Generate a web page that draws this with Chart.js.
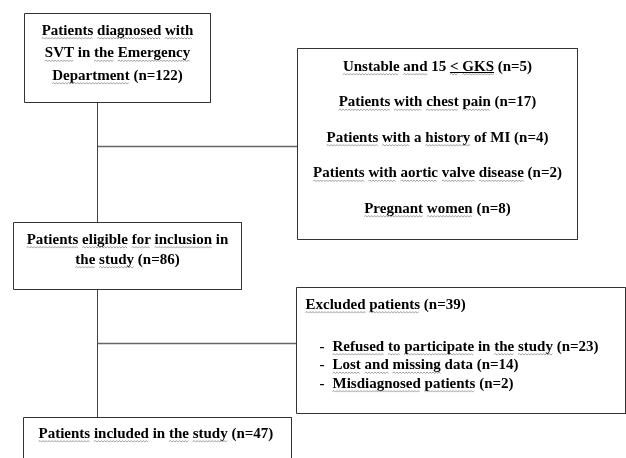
<!DOCTYPE html>
<html>
<head>
<meta charset="utf-8">
<title>Patient flow</title>
<script src="https://cdn.jsdelivr.net/npm/chart.js@4.4.1/dist/chart.umd.min.js"></script>
<style>
  html, body { margin: 0; padding: 0; background: #fff; }
  #flow { display: block; }
</style>
</head>
<body>
<canvas id="flow" width="626" height="458"></canvas>
<script>
// ── data ────────────────────────────────────────
const stageLabels = [
  'Patients diagnosed with SVT in the Emergency Department',
  'Patients eligible for inclusion in the study',
  'Patients included in the study',
];
const stageCounts = [122, 86, 47];

const exclusionLabels = [
  'Unstable and 15 < GKS',
  'Patients with chest pain',
  'Patients with a history of MI',
  'Patients with aortic valve disease',
  'Pregnant women',
];
const exclusionCounts = [5, 17, 4, 2, 8];

const lossTitle = 'Excluded patients';
const lossLabels = [
  'Refused to participate in the study',
  'Lost and missing data',
  'Misdiagnosed patients',
];
const lossCounts = [23, 14, 2];

// ── layout (page units = pixels of the 626x458 frame) ──
const boxes = {
  diagnosed: { x0: 24, y0: 13, x1: 210, y1: 102 },
  exclusion: { x0: 297, y0: 48, x1: 577, y1: 239 },
  eligible:  { x0: 13, y0: 222, x1: 241, y1: 289 },
  loss:      { x0: 296, y0: 287, x1: 625, y1: 413 },
  included:  { x0: 23, y0: 417, x1: 291, y1: 480 },
};
const spineX = 97;
const branchY = [146, 343];

const FONT = 'bold 15px "Liberation Serif", "Times New Roman", serif';
const noSquiggle = ['a', 'of', 'MI', 'in', '15', 'data', '-'];

const withCount = (label, n) => `${label} (n=${n})`;

function rectPoints(b) {
  return [
    { x: b.x0, y: b.y0 }, { x: b.x1, y: b.y0 },
    { x: b.x1, y: b.y1 }, { x: b.x0, y: b.y1 }, { x: b.x0, y: b.y0 },
  ];
}

function lineSet(points, color, width) {
  return {
    data: points,
    showLine: true,
    borderColor: color,
    borderWidth: width,
    pointRadius: 0,
    tension: 0,
    fill: false,
    clip: false,
  };
}

const datasets = [
  ...Object.values(boxes).map(b => lineSet(rectPoints(b), '#333', 1)),
  lineSet([{ x: spineX, y: boxes.diagnosed.y1 }, { x: spineX, y: boxes.eligible.y0 }], '#444', 1),
  lineSet([{ x: spineX, y: boxes.eligible.y1 }, { x: spineX, y: boxes.included.y0 }], '#444', 1),
  lineSet([{ x: spineX, y: branchY[0] }, { x: boxes.exclusion.x0, y: branchY[0] }], '#666', 1.5),
  lineSet([{ x: spineX, y: branchY[1] }, { x: boxes.loss.x0, y: branchY[1] }], '#666', 1.5),
];

function wrap(ctx, text, maxWidth) {
  const words = text.split(' ');
  const lines = [];
  let cur = '';
  words.forEach(w => {
    const test = cur ? cur + ' ' + w : w;
    if (cur && ctx.measureText(test).width > maxWidth) {
      lines.push(cur);
      cur = w;
    } else {
      cur = test;
    }
  });
  if (cur) lines.push(cur);
  return lines;
}

function squiggle(ctx, x0, x1, y) {
  ctx.save();
  ctx.strokeStyle = '#8c8c8c';
  ctx.lineWidth = 0.8;
  ctx.beginPath();
  let up = true;
  ctx.moveTo(x0, y);
  for (let x = x0 + 1.5; x <= x1; x += 1.5) {
    ctx.lineTo(x, up ? y - 1 : y + 0.6);
    up = !up;
  }
  ctx.stroke();
  ctx.restore();
}

// draws one line of text, word by word, so words can get the wavy marks
function drawLine(ctx, text, x, y, align) {
  const total = ctx.measureText(text).width;
  let start = align === 'center' ? x - total / 2 : x;
  ctx.textAlign = 'left';
  ctx.textBaseline = 'alphabetic';
  ctx.fillText(text, start, y);
  const words = text.split(' ');
  let offset = 0;
  words.forEach((w, i) => {
    const pre = words.slice(0, i).join(' ') + (i ? ' ' : '');
    const wx = start + ctx.measureText(pre).width;
    const ww = ctx.measureText(w).width;
    if (!w.startsWith('(') && !noSquiggle.includes(w)) {
      squiggle(ctx, wx, wx + ww, y + 4);
    }
  });
  // the "< GKS" part is underlined (reads as ≤)
  const k = text.indexOf('< GKS');
  if (k >= 0) {
    const ux = start + ctx.measureText(text.slice(0, k)).width;
    const uw = ctx.measureText('< GKS').width;
    ctx.fillRect(ux, y + 1.5, uw, 1);
  }
}

const textPlugin = {
  id: 'flowText',
  afterDatasetsDraw(chart) {
    const { ctx, scales: { x: sx, y: sy } } = chart;
    const px = v => sx.getPixelForValue(v);
    const py = v => sy.getPixelForValue(v);
    ctx.save();
    ctx.font = FONT;
    ctx.fillStyle = '#000';

    // stage boxes, centred text with wrapping
    const centred = (b, text, firstY, step, pad) => {
      const cx = px((b.x0 + b.x1) / 2);
      const lines = wrap(ctx, text, px(b.x1) - px(b.x0) - 2 * pad);
      lines.forEach((l, i) => drawLine(ctx, l, cx, py(firstY + i * step), 'center'));
    };
    centred(boxes.diagnosed, withCount(stageLabels[0], stageCounts[0]), 34, 22.5, 8);
    centred(boxes.eligible, withCount(stageLabels[1], stageCounts[1]), 243, 20, 8);

    // exclusion criteria box
    const ex = boxes.exclusion;
    exclusionLabels.forEach((l, i) => {
      drawLine(ctx, withCount(l, exclusionCounts[i]), px((ex.x0 + ex.x1) / 2),
        py(ex.y0 + 22 + i * 35.5), 'center');
    });

    // excluded / lost box
    const lo = boxes.loss;
    const lossTotal = lossCounts.reduce((a, b) => a + b, 0);
    drawLine(ctx, withCount(lossTitle, lossTotal), px(lo.x0 + 9), py(lo.y0 + 21), 'left');
    lossLabels.forEach((l, i) => {
      const y = py(lo.y0 + 63 + i * 18.5);
      ctx.fillText('-', px(lo.x0 + 23), y);
      drawLine(ctx, withCount(l, lossCounts[i]), px(lo.x0 + 36), y, 'left');
    });

    // final box
    const inc = boxes.included;
    drawLine(ctx, withCount(stageLabels[2], stageCounts[2]), px(inc.x0 + 15), py(inc.y0 + 20), 'left');
    ctx.restore();
  },
};

new Chart(document.getElementById('flow'), {
  type: 'scatter',
  data: { datasets },
  options: {
    responsive: false,
    animation: false,
    events: [],
    layout: { padding: 0 },
    plugins: { legend: { display: false }, tooltip: { enabled: false } },
    scales: {
      x: { type: 'linear', min: -0.5, max: 625.5, display: false },
      y: { type: 'linear', min: -0.5, max: 457.5, reverse: true, display: false },
    },
  },
  plugins: [textPlugin],
});
</script>
</body>
</html>
